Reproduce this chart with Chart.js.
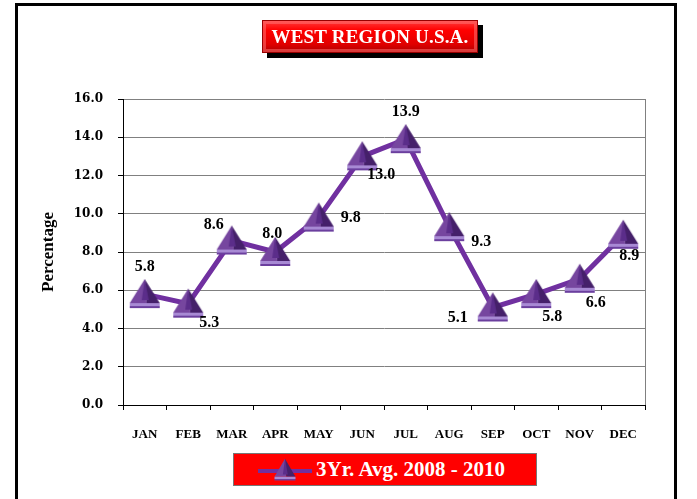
<!DOCTYPE html>
<html>
<head>
<meta charset="utf-8">
<script src="https://cdn.jsdelivr.net/npm/chart.js@4"></script>
<style>
    html, body { margin: 0; padding: 0; background: #fff; }
    #wrap { position: relative; width: 697px; height: 499px; overflow: hidden; }
    #frame { position: absolute; left: 15px; top: 3px; width: 656px; height: 520px; border: 3px solid #000; }
    #chart { position: absolute; left: 0; top: 0; }
    #title {
        position: absolute; left: 262px; top: 20px; width: 216px; height: 33px;
        background: linear-gradient(#ff3b3b, #ff0000 30%, #e00000 75%, #b00000);
        border: 1px solid #900; box-sizing: border-box;
        box-shadow: 5px 5px 0 #000, inset 0 0 0 3px rgba(255,120,120,0.5);
        color: #fff; font: bold 19px "Liberation Serif", serif;
        text-align: center; line-height: 31px; letter-spacing: 0.2px;
    }
    #legend {
        position: absolute; left: 233px; top: 453px; width: 304px; height: 33px;
        background: #ff0000; border: 1px solid #777; box-sizing: border-box;
        color: #fff; font: bold 21px "Liberation Serif", serif; line-height: 31px;
    }
    #legend canvas { position: absolute; left: 22px; top: 3px; }
    #legend span { position: absolute; left: 82px; top: 0; white-space: nowrap; }
</style>
</head>
<body>
<div id="wrap">
    <div id="frame"></div>
    <canvas id="chart" width="697" height="499"></canvas>
    <div id="title">WEST REGION U.S.A.</div>
    <div id="legend"><canvas id="legendMark" width="60" height="26"></canvas><span>3Yr. Avg. 2008 - 2010</span></div>
</div>
<script>
// chart data
const months = ['JAN', 'FEB', 'MAR', 'APR', 'MAY', 'JUN', 'JUL', 'AUG', 'SEP', 'OCT', 'NOV', 'DEC'];
const avgValues = [5.8, 5.3, 8.6, 8.0, 9.8, 13.0, 13.9, 9.3, 5.1, 5.8, 6.6, 8.9];
const seriesName = '3Yr. Avg. 2008 - 2010';
const yTicks = [0, 2, 4, 6, 8, 10, 12, 14, 16];

// where each value label sits relative to its point (dx, dy)
const labelOffsets = [
    [0, -27], [21, 19], [-18, -16], [-3, -18], [32, 0], [19, 18],
    [0, -27], [32, 15], [-35, 10], [16, 23], [16, 24], [6, 21]
];

const lineColor = '#7030A0';

// 3D looking triangle marker
function drawPyramid(ctx, cx, cy) {
    const apex = [cx, cy - 15];
    const left = [cx - 15, cy + 9];
    const right = [cx + 15, cy + 9];
    const front = [cx + 2, cy + 9];
    ctx.fillStyle = '#76469f';
    ctx.beginPath(); ctx.moveTo(...apex); ctx.lineTo(...left); ctx.lineTo(...front); ctx.closePath(); ctx.fill();
    ctx.fillStyle = '#45206a';
    ctx.beginPath(); ctx.moveTo(...apex); ctx.lineTo(...front); ctx.lineTo(...right); ctx.closePath(); ctx.fill();
    ctx.fillStyle = '#5b2d8a';
    ctx.beginPath(); ctx.moveTo(...apex); ctx.lineTo(cx - 3, cy + 6); ctx.lineTo(cx + 4, cy + 6); ctx.closePath(); ctx.fill();
    ctx.fillStyle = '#a88ad4';
    ctx.fillRect(cx - 15, cy + 9, 30, 3);
    ctx.fillStyle = '#6b3f9e';
    ctx.fillRect(cx - 15, cy + 12, 30, 2);
}

const marker = document.createElement('canvas');
marker.width = 32;
marker.height = 32;
drawPyramid(marker.getContext('2d'), 16, 16);

// legend symbol
const lg = document.getElementById('legendMark').getContext('2d');
lg.strokeStyle = lineColor;
lg.lineWidth = 4;
lg.beginPath(); lg.moveTo(2, 14); lg.lineTo(56, 14); lg.stroke();
lg.save();
lg.translate(29, 13);
lg.scale(0.7, 0.75);
drawPyramid(lg, 0, 0);
lg.restore();

const plotExtras = {
    id: 'plotExtras',
    beforeDatasetsDraw(chart) {
        const { ctx, chartArea } = chart;
        ctx.save();
        ctx.strokeStyle = '#808080';
        ctx.lineWidth = 1;
        ctx.beginPath();
        ctx.moveTo(chartArea.right + 0.5, chartArea.top);
        ctx.lineTo(chartArea.right + 0.5, chartArea.bottom);
        ctx.stroke();
        ctx.restore();
    },
    afterDatasetsDraw(chart) {
        const { ctx } = chart;
        const meta = chart.getDatasetMeta(0);
        ctx.save();
        ctx.font = 'bold 16px "Liberation Serif", serif';
        ctx.fillStyle = '#000';
        ctx.textAlign = 'center';
        ctx.textBaseline = 'middle';
        meta.data.forEach((pt, i) => {
            const off = labelOffsets[i];
            ctx.fillText(avgValues[i].toFixed(1), pt.x + off[0], pt.y + off[1]);
        });
        ctx.restore();
    }
};

new Chart(document.getElementById('chart'), {
    type: 'line',
    data: {
        labels: months,
        datasets: [{
            label: seriesName,
            data: avgValues,
            borderColor: lineColor,
            borderWidth: 5,
            pointStyle: marker,
            pointRadius: 16,
            tension: 0
        }]
    },
    options: {
        responsive: false,
        animation: false,
        layout: { padding: { left: 0, top: 99, right: 52, bottom: 44 } },
        plugins: {
            legend: { display: false },
            tooltip: { enabled: false }
        },
        scales: {
            x: {
                offset: true,
                afterFit: (scale) => { scale.height = 50; },
                grid: {
                    offset: true,
                    drawOnChartArea: false,
                    drawTicks: true,
                    tickLength: 5,
                    tickColor: '#000'
                },
                border: { color: '#000', width: 1 },
                ticks: {
                    color: '#000',
                    padding: 17,
                    font: { family: '"Liberation Serif", serif', size: 13, weight: 'bold' }
                }
            },
            y: {
                min: 0,
                max: 16,
                afterFit: (scale) => { scale.width = 123; },
                afterBuildTicks: (scale) => { scale.ticks = yTicks.map(v => ({ value: v })); },
                grid: {
                    color: (c) => c.tick && c.tick.value === 0 ? '#000' : '#808080',
                    tickLength: 5,
                    tickColor: '#000'
                },
                border: { color: '#000', width: 1 },
                ticks: {
                    color: '#000',
                    padding: 15,
                    callback: (v) => Number(v).toFixed(1),
                    font: { family: '"DejaVu Serif", serif', size: 12, weight: 'bold' }
                },
                title: {
                    display: true,
                    text: 'Percentage',
                    color: '#000',
                    padding: { top: 38, bottom: 0 },
                    font: { family: '"Liberation Serif", serif', size: 17, weight: 'bold' }
                }
            }
        }
    },
    plugins: [plotExtras]
});
</script>
</body>
</html>
